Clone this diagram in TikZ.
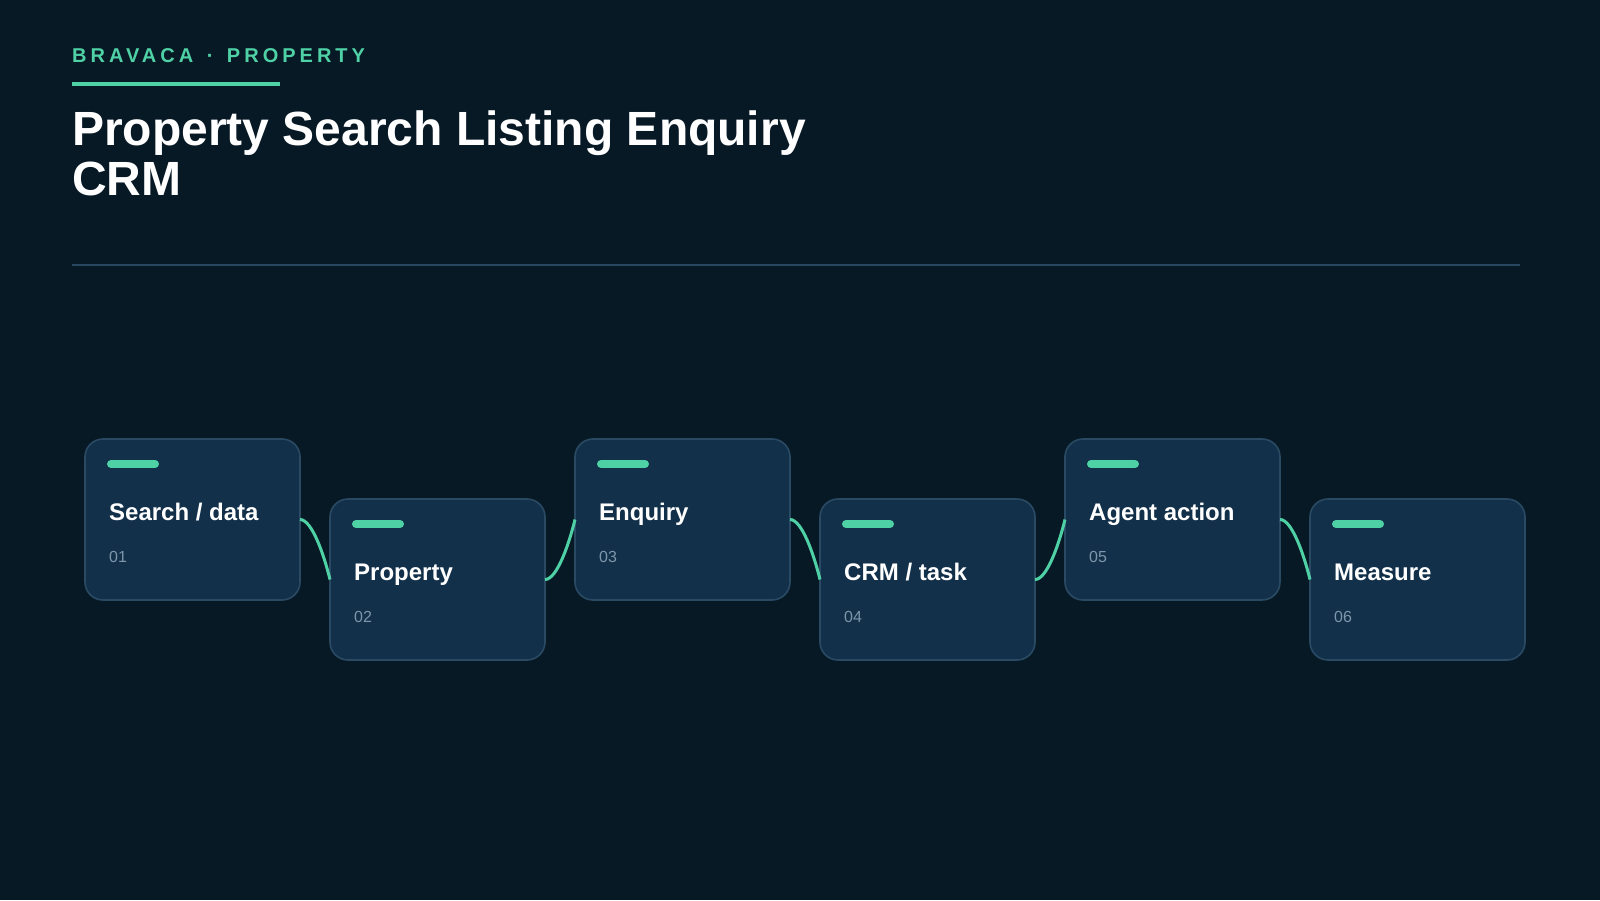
\documentclass[tikz,border=0pt]{standalone}
\usepackage{fontspec}
\setmainfont{Liberation Sans}
\newfontfamily\spacedfont[LetterSpace=20]{Liberation Sans}
\usetikzlibrary{calc}
\definecolor{bgc}{HTML}{081926}
\definecolor{cardfill}{HTML}{12304A}
\definecolor{cardline}{HTML}{2A4A63}
\definecolor{accent}{HTML}{4FD1A6}
\definecolor{numc}{HTML}{7D96AB}
\definecolor{rulec}{HTML}{274760}
\tikzset{
  card/.style={draw=cardline, line width=1.6pt, fill=cardfill, rounded corners=18pt,
    minimum width=215pt, minimum height=161pt, inner sep=0pt, outer sep=0pt},
  accentbar/.style={draw=accent, line width=8pt, line cap=round},
  cardtitle/.style={anchor=base west, inner sep=0pt, text=white,
    font=\fontsize{24}{28}\selectfont\bfseries},
  cardnum/.style={anchor=base west, inner sep=0pt, text=numc,
    font=\fontsize{16}{19}\selectfont},
  link/.style={draw=accent, line width=3pt}
}
\begin{document}
\begin{tikzpicture}[x=1pt, y=-1pt]
\fill[bgc] (0,0) rectangle (1600,900);
\useasboundingbox (0,0) rectangle (1600,900);

% header
\node[anchor=base west, inner sep=0pt, text=accent,
  font=\fontsize{20}{24}\selectfont\spacedfont\bfseries] (brand) at (72,62) {BRAVACA \hspace{4pt}· \hspace{4pt}PROPERTY};
\coordinate (ulA) at (72,84);
\coordinate (ulB) at (280,84);
\draw[accent, line width=4pt] (ulA) -- (ulB);
\node[anchor=base west, inner sep=0pt, text=white,
  font=\fontsize{48}{50}\selectfont\bfseries] (title1) at (72,145) {Property Search Listing Enquiry};
\node[anchor=base west, inner sep=0pt, text=white,
  font=\fontsize{48}{50}\selectfont\bfseries] (title2) at (72,195) {CRM};
\coordinate (ruleA) at (72,265);
\coordinate (ruleB) at (1520,265);
\draw[rulec, line width=2pt] (ruleA) -- (ruleB);

% cards
\foreach \i/\x/\y/\t in {1/192.5/519.5/{Search / data}, 2/437.5/579.5/{Property}, 3/682.5/519.5/{Enquiry},
  4/927.5/579.5/{CRM / task}, 5/1172.5/519.5/{Agent action}, 6/1417.5/579.5/{Measure}}{
  \node[card] (c\i) at (\x,\y) {};
  \draw[accentbar] ($(c\i.north west)+(26,25)$) -- ($(c\i.north west)+(70,25)$);
  \node[cardtitle] (t\i) at ($(c\i.north west)+(24,81)$) {\t};
  \node[cardnum] (n\i) at ($(c\i.north west)+(24,123)$) {0\i};
}

% connectors
\draw[link] (c1.east) .. controls ($(c1.east)+(12,0)$) and ($(c2.west)+(-6,-24.5)$) .. (c2.west);
\draw[link] (c2.east) .. controls ($(c2.east)+(12,0)$) and ($(c3.west)+(-6,24.5)$) .. (c3.west);
\draw[link] (c3.east) .. controls ($(c3.east)+(12,0)$) and ($(c4.west)+(-6,-24.5)$) .. (c4.west);
\draw[link] (c4.east) .. controls ($(c4.east)+(12,0)$) and ($(c5.west)+(-6,24.5)$) .. (c5.west);
\draw[link] (c5.east) .. controls ($(c5.east)+(12,0)$) and ($(c6.west)+(-6,-24.5)$) .. (c6.west);
\end{tikzpicture}
\end{document}
